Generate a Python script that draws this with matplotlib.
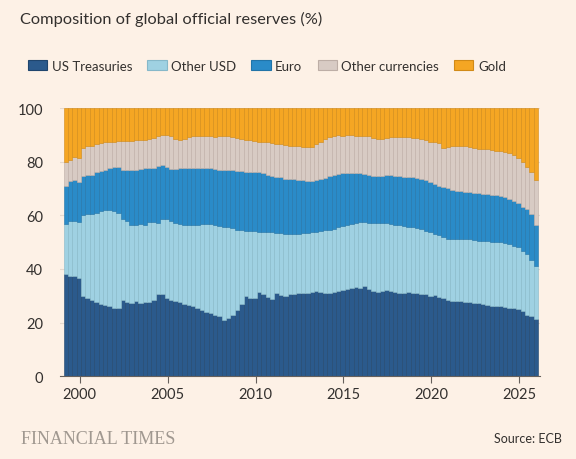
import numpy as np
import matplotlib
matplotlib.use("Agg")
import matplotlib.pyplot as plt
from matplotlib.patches import Patch

plt.rcParams["font.family"] = ["Lato", "DejaVu Sans"]

# quarterly, 1999Q1 .. 2025Q4
quarters = np.arange(1999, 2026, 0.25)

# cumulative tops of each band (% of reserves)
ust = [38, 37.5, 37.2, 36.5, 30, 29.3, 28.6, 27.6, 27.1, 26.4, 26, 25.6,
       25.4, 28.3, 27.8, 27.4, 28, 27.3, 27.6, 27.8, 28.3, 30.8, 30.8, 29.2,
       28.6, 28, 27.5, 27, 26.5, 26, 25.5, 24.5, 24, 23.5, 23, 22.3,
       20.8, 21.8, 23, 24.5, 27, 29.8, 29, 29, 31.5, 30.8, 29.5, 28.8,
       31, 30.2, 30, 30.5, 30.8, 31, 31.2, 31.2, 31.5, 31.8, 31.5, 31.2,
       31, 31.3, 31.8, 32.2, 32.6, 33, 33.3, 33, 33.5, 32.5, 31.6, 31.5,
       31.8, 32, 31.6, 31.3, 31, 31.2, 31.4, 31.2, 31, 30.8, 30.5, 30,
       30.2, 29.5, 29, 28.5, 28.2, 28, 28, 27.8, 27.5, 27.4, 27.2, 26.8,
       26.5, 26.3, 26.2, 26, 25.8, 25.5, 25.3, 25, 24.2, 23, 22.3, 21.2]
usd_top = [56.7, 58, 58, 57.5, 60.2, 60.4, 60.5, 61, 61.6, 62, 62, 61.6,
           61, 58.6, 58, 56.4, 56.4, 56.7, 56.4, 57.4, 57.4, 57.2, 58.5, 58.7,
           58, 57.1, 56.7, 56.5, 56.5, 56.5, 56.4, 56.6, 56.7, 56.6, 56.3, 56,
           55.8, 55.5, 55.2, 54.6, 54.5, 54.2, 54, 54, 53.8, 53.6, 53.6, 53.6,
           53.4, 53.3, 53.2, 53.2, 53.2, 53.1, 53.3, 53.5, 53.6, 53.8, 54.2, 54.4,
           54.6, 55, 55.5, 56, 56.3, 56.7, 57.2, 57.6, 57.4, 57, 57.1, 57,
           57.2, 57, 56.8, 56.4, 56.2, 56, 55.8, 55.6, 55.2, 54.8, 54.3, 53.8,
           53.2, 52.5, 51.8, 51.2, 51, 51.2, 51, 51, 51, 50.8, 50.6, 50.4,
           50.3, 50.1, 50, 49.9, 49.8, 49.4, 48.6, 48, 46.5, 45.5, 43.5, 41]
eur_top = [70.8, 72.9, 73.3, 72.3, 74.5, 75, 75, 76, 76.6, 77, 77.5, 77.9,
           77.9, 77, 77, 76.8, 77, 77.2, 77.5, 77.6, 77.6, 78.5, 78.8, 78,
           77.3, 77.3, 77.5, 77.6, 77.8, 77.8, 77.8, 77.6, 77.5, 77.5, 77.3, 77,
           77, 77, 76.8, 76.6, 76.4, 76.2, 76, 76.2, 76.3, 75.8, 75, 74.5,
           74.4, 74.2, 73.6, 73.4, 73.4, 73.2, 73, 72.8, 72.8, 73, 73.5, 74,
           74.6, 75, 75.4, 75.6, 75.6, 75.6, 75.8, 75.6, 75.4, 75.2, 74.8, 74.5,
           74.8, 75, 74.9, 74.7, 74.5, 74.4, 74.3, 74.2, 74, 73.6, 73, 72.5,
           71.8, 71, 70.5, 70, 69.5, 69.2, 69, 68.8, 68.6, 68.4, 68.2, 68,
           67.8, 67.6, 67.4, 67.2, 66.8, 66.2, 65.5, 64.5, 63.2, 62.2, 60.5, 56.2]
other_top = [79.8, 80.8, 81.7, 81.3, 85.2, 85.8, 86, 86.6, 87, 87.2, 87.3, 87.3,
             87.6, 87.8, 87.8, 87.8, 88, 88, 88.2, 88.5, 88.9, 89.7, 90.1, 90.1,
             89.5, 88.5, 88.2, 88.5, 89.2, 89.4, 89.6, 89.5, 89.5, 89.4, 89.2, 89.5,
             89.7, 89.5, 89.2, 88.8, 88.5, 88.2, 88, 87.8, 87.5, 87.4, 87.2, 87,
             86.6, 86.4, 86.2, 85.8, 85.7, 85.8, 85.6, 85.4, 85.5, 86.5, 87.5, 88.5,
             89.2, 89.6, 89.8, 89.7, 89.8, 89.8, 89.7, 89.6, 89.7, 89.5, 88.8, 88.4,
             88.6, 89, 89.2, 89.3, 89.3, 89.2, 89.1, 89, 88.8, 88.5, 88.2, 87.5,
             87.2, 86.8, 85.2, 85.4, 85.8, 85.9, 86, 85.8, 85.4, 85, 84.8, 84.6,
             84.6, 84.2, 84, 83.8, 83.6, 83.2, 82.5, 81.5, 80, 78, 76, 73]

labels = ["US Treasuries", "Other USD", "Euro", "Other currencies", "Gold"]
colors = ["#2b5a8c", "#9fd1e2", "#2a8bc8", "#d8cbc4", "#f5a623"]
edges = ["#1f456d", "#86b8c9", "#2174a8", "#bdaea6", "#d18a17"]

tops = np.array([ust, usd_top, eur_top, other_top, [100] * len(ust)])
bottoms = np.vstack([np.zeros(len(ust)), tops[:-1]])

bg = "#fdf1e6"
fig = plt.figure(figsize=(5.76, 4.6), dpi=100, facecolor=bg)
ax = fig.add_axes([0.104, 0.18, 0.834, 0.583], facecolor=bg)

x = quarters + 0.2
for k in range(5):
    ax.bar(x, tops[k] - bottoms[k], bottom=bottoms[k], width=0.25,
           color=colors[k], edgecolor=edges[k], linewidth=0.4, zorder=2)

ax.set_xlim(1998.87, 2026.2)
ax.set_ylim(0, 100)
ax.set_yticks(range(0, 101, 20))
ax.set_xticks(range(2000, 2026, 5))
ax.grid(axis="y", color="#e6d9ce", linewidth=0.8, zorder=0)
for s in ["top", "right", "left"]:
    ax.spines[s].set_visible(False)
ax.spines["bottom"].set_color("#66605c")
ax.spines["bottom"].set_zorder(3)
ax.tick_params(axis="y", length=0, pad=12, labelsize=10.5, labelcolor="#33302e")
ax.tick_params(axis="x", length=5, color="#66605c", labelsize=10.5,
               labelcolor="#33302e", pad=3)

fig.text(0.035, 0.958, "Composition of global official reserves (%)",
         fontsize=11.8, color="#33302e", va="center")

handles = [Patch(facecolor=c, edgecolor=e, linewidth=0.8) for c, e in zip(colors, edges)]
fig.legend(handles, labels, loc="center left", bbox_to_anchor=(0.028, 0.855),
           ncol=5, frameon=False, fontsize=9.5, handlelength=1.45, handleheight=0.75,
           handletextpad=0.35, columnspacing=1.15, labelcolor="#33302e")

fig.text(0.037, 0.045, "FINANCIAL TIMES", family="Liberation Serif", fontsize=13,
         color="#a09890", va="center")
fig.text(0.975, 0.045, "Source: ECB", fontsize=9, color="#33302e",
         ha="right", va="center")

fig.savefig("out.png", dpi=100, facecolor=bg)
